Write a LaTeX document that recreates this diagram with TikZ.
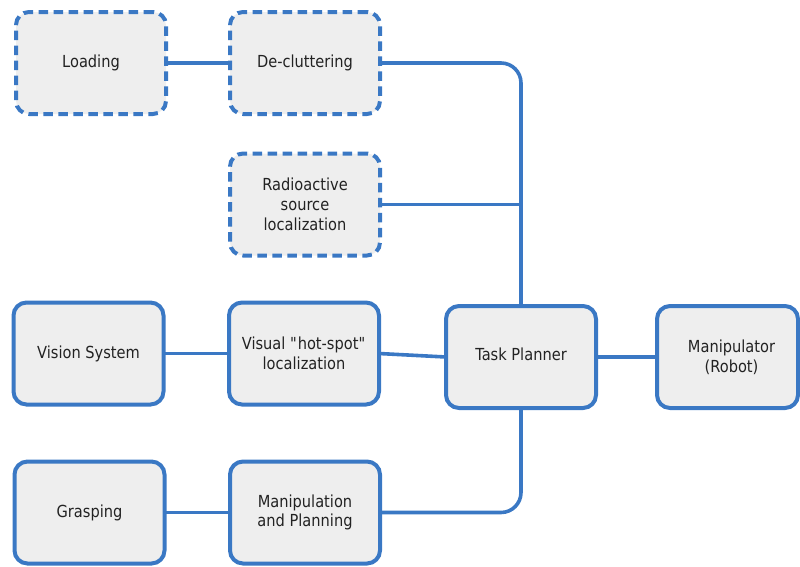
\documentclass[tikz,border=0pt]{standalone}
\usepackage{fontspec}
\setmainfont{DejaVu Sans}[FakeStretch=0.88]
\newcommand{\straightquote}{\XeTeXglyph\XeTeXglyphindex "quotedbl"\relax}
\definecolor{lineblue}{RGB}{58,120,196}
\definecolor{boxfill}{RGB}{238,238,238}
\definecolor{txt}{RGB}{34,34,34}
\tikzset{
  blk/.style={draw=lineblue, line width=4pt, fill=boxfill, rounded corners=13pt,
    minimum width=150pt, minimum height=102pt, inner sep=0pt, outer sep=0pt,
    align=center, text=txt, font=\fontsize{16.6}{19.8}\selectfont},
  dblk/.style={blk, dash pattern=on 9.5pt off 5.5pt},
  conn/.style={draw=lineblue, line width=3.6pt},
}
\begin{document}
\begin{tikzpicture}[x=1pt,y=-1pt]
\useasboundingbox (0,0) rectangle (800,566);
\node[dblk] (load) at (91,63) {\raisebox{-2pt}{Loading}};
\node[dblk] (declut) at (305,63) {\raisebox{-2pt}{De-cluttering}};
\node[dblk] (radio) at (305,204.5) {Radioactive\\source\\localization};
\node[blk] (vision) at (88.5,353.5) {Vision System};
\node[blk] (visual) at (304,353.5) {Visual \straightquote hot-spot\straightquote\\localization};
\node[blk] (task) at (521,357) {\raisebox{5pt}{Task Planner}};
\node[blk, minimum width=141pt] (manip) at (727.5,357) {\hspace*{8pt}Manipulator\\\hspace*{8pt}(Robot)};
\node[blk] (grasp) at (89.5,512.5) {Grasping};
\node[blk] (mp) at (305,512.5) {Manipulation\\and Planning};

\draw[conn] (load.east) -- (declut.west);
\draw[conn, rounded corners=20pt] (declut.east) -| (task.north);
\draw[conn] (radio.east) -- (radio.east -| task.north);
\draw[conn] (vision.east) -- (visual.west);
\draw[conn] (visual.east) -- (task.west);
\draw[conn] (task.east) -- (manip.west);
\draw[conn, rounded corners=20pt] (task.south) |- (mp.east);
\draw[conn] (grasp.east) -- (mp.west);
\end{tikzpicture}
\end{document}
